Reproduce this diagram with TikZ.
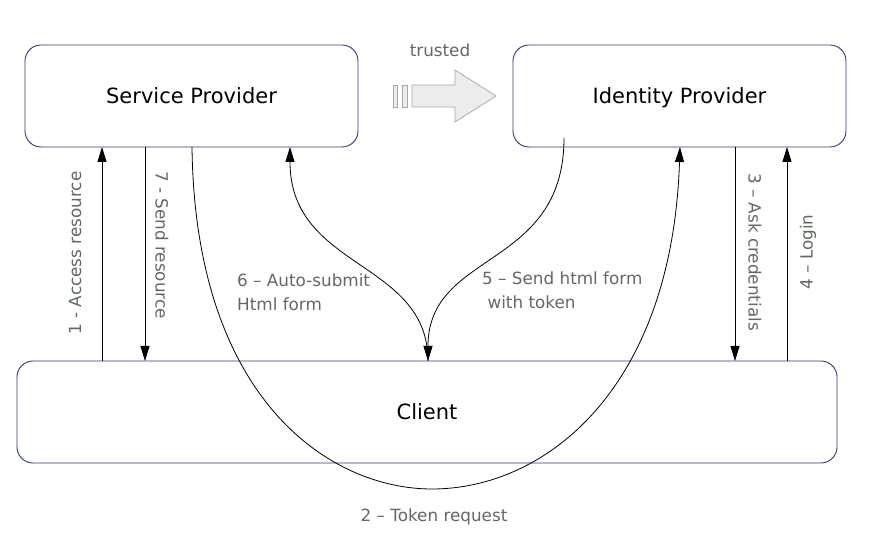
\documentclass[tikz,border=0pt]{standalone}
\usepackage{fontspec}
\setmainfont{DejaVu Sans}
\usetikzlibrary{arrows.meta}
\definecolor{boxline}{HTML}{2E3A80}
\definecolor{lbl}{HTML}{666666}
\definecolor{lblg}{HTML}{5E6A5E}
\tikzset{
  party/.style={draw=boxline, line width=0.9pt, rounded corners=16pt, inner sep=0pt, text height=15pt, text depth=0pt, font=\fontsize{21}{24}\selectfont},
  flow/.style={draw=black, line width=0.8pt, -{Triangle[length=15pt,width=9pt]}},
  lab/.style={text=lbl, font=\fontsize{16.8}{23.5}\selectfont, inner sep=0pt},
}
\begin{document}
\begin{tikzpicture}[x=1pt,y=-1pt]
\useasboundingbox (0,0) rectangle (879,545);
% boxes
\node[party, minimum width=333pt, minimum height=102pt] (sp) at (191.5,96) {Service Provider};
\node[party, minimum width=333pt, minimum height=102pt] (idp) at (679.5,96) {Identity Provider};
\node[party, minimum width=820pt, minimum height=102pt] (cl) at (427,412) {Client};
% trusted arrow
\draw[draw=gray!70, fill=gray!15, line width=0.7pt] (393,85) rectangle (397,107);
\draw[draw=gray!70, fill=gray!15, line width=0.7pt] (402,85) rectangle (407,107);
\draw[draw=gray!70, fill=gray!15, line width=0.7pt] (412,85) -- (455,85) -- (455,70) -- (496,96) -- (455,122) -- (455,107) -- (412,107) -- cycle;
\node[lab] (tr) at (440,50) {trusted};
% coordinates on box edges
\coordinate (a1s) at (102,361); \coordinate (a1e) at (102,147);
\coordinate (a7s) at (145,147); \coordinate (a7e) at (145,361);
\coordinate (a3s) at (735,147); \coordinate (a3e) at (735,361);
\coordinate (a4s) at (787,361); \coordinate (a4e) at (787,147);
\coordinate (a2s) at (192,147); \coordinate (a2b) at (432,489); \coordinate (a2e) at (680,147);
\coordinate (a6s) at (428,361); \coordinate (a6e) at (290,147);
\coordinate (a5s) at (564,138); \coordinate (a5e) at (428,361);
% straight arrows
\draw[flow] (a1s) -- (a1e);
\draw[flow] (a7s) -- (a7e);
\draw[flow] (a3s) -- (a3e);
\draw[flow] (a4s) -- (a4e);
% curves
\draw[flow] (a2s) .. controls (195,400) and (330,489) .. (a2b) .. controls (545,489) and (672,390) .. (a2e);
\draw[flow] (a6s) .. controls (428,260) and (290,270) .. (a6e);
\draw[flow] (a5s) .. controls (564,270) and (428,250) .. (a5e);
% labels
\node[lab, text=lblg, rotate=90] (l1) at (75,253) {1 - Access resource};
\node[lab, rotate=-90] (l7) at (162,245) {7 - Send resource};
\node[lab, rotate=-90] (l3) at (755,252) {3 – Ask credentials};
\node[lab, text=lblg, rotate=90] (l4) at (808,252) {4 – Login};
\node[lab, anchor=north west, align=left] (l6) at (237,274) {6 – Auto-submit\\Html form};
\node[lab, anchor=north west, align=left] (l5) at (482,272) {5 – Send html form\\\ with token};
\node[lab] (l2) at (434,517) {2 – Token request};
\end{tikzpicture}
\end{document}
